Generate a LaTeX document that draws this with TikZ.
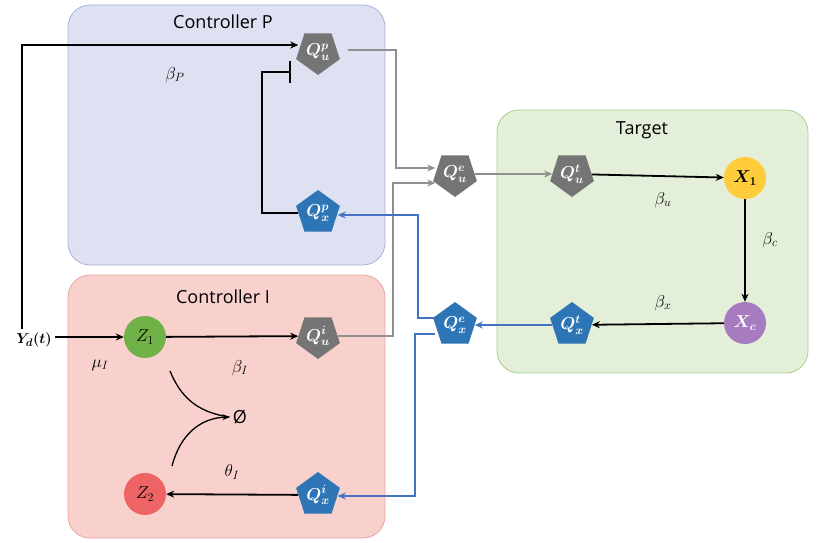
\documentclass[tikz,border=0pt]{standalone}
\usepackage{fontspec}
\usepackage{amsmath,bm}
\setmainfont{Open Sans}
\usetikzlibrary{shapes.geometric,arrows.meta}
\definecolor{pfill}{HTML}{DDE1F1}\definecolor{pdraw}{HTML}{A9B3DA}
\definecolor{ifill}{HTML}{F8D1CD}\definecolor{idraw}{HTML}{E9A3A0}
\definecolor{tfill}{HTML}{E3EFD8}\definecolor{tdraw}{HTML}{A9D08E}
\definecolor{qgray}{HTML}{757575}\definecolor{qblue}{HTML}{2E75B6}
\definecolor{lgray}{HTML}{909090}\definecolor{lblue}{HTML}{4472C4}
\begin{document}
\begin{tikzpicture}[x=1pt,y=-1pt,
  box/.style={rounded corners=22pt,line width=0.8pt},
  qu/.style={regular polygon,regular polygon sides=5,shape border rotate=180,fill=qgray,text=white,minimum size=46pt,inner sep=0pt,font=\fontsize{17}{19}\selectfont},
  qx/.style={regular polygon,regular polygon sides=5,fill=qblue,text=white,minimum size=46pt,inner sep=0pt,font=\fontsize{17}{19}\selectfont},
  sp/.style={circle,minimum size=42pt,inner sep=0pt,font=\fontsize{17}{19}\selectfont},
  ttl/.style={font=\fontsize{18}{20}\selectfont},
  lab/.style={font=\fontsize{18}{20}\selectfont},
  bk/.style={-{Stealth[length=8pt,width=7pt]},line width=1.8pt},
  gr/.style={-{Stealth[length=8pt,width=7pt]},line width=1.8pt,lgray},
  bl/.style={-{Stealth[length=8pt,width=7pt]},line width=1.8pt,lblue}]
\useasboundingbox (0,0) rectangle (820,543);
\draw[box,fill=pfill,draw=pdraw] (68,5) rectangle (385,265);
\draw[box,fill=ifill,draw=idraw] (68,275) rectangle (385,538);
\draw[box,fill=tfill,draw=tdraw] (497,110) rectangle (808,373);
\node[ttl] (tp) at (223,22) {Controller P};
\node[ttl] (ti) at (223,297) {Controller I};
\node[ttl] (tt) at (642,130) {Target};
\node[qu] (Qup) at (318,52) {$\bm{Q^{p}_{u}}$};
\node[qx] (Qxp) at (318,213) {$\bm{Q^{p}_{x}}$};
\node[qu] (Que) at (455,174) {$\bm{Q^{e}_{u}}$};
\node[qu] (Qut) at (572,174) {$\bm{Q^{t}_{u}}$};
\node[qx] (Qxt) at (572,325) {$\bm{Q^{t}_{x}}$};
\node[qx] (Qxe) at (455,325) {$\bm{Q^{e}_{x}}$};
\node[qu] (Qui) at (318,336) {$\bm{Q^{i}_{u}}$};
\node[qx] (Qxi) at (318,495) {$\bm{Q^{i}_{x}}$};
\node[sp,fill={rgb,255:red,255;green,205;blue,60}] (X1) at (745,178) {$\bm{X_1}$};
\node[sp,fill={rgb,255:red,166;green,123;blue,192},text=white] (Xc) at (745,323) {$\bm{X_c}$};
\node[sp,fill={rgb,255:red,112;green,178;blue,72}] (Z1) at (145,337) {$Z_1$};
\node[sp,fill={rgb,255:red,238;green,100;blue,100}] (Z2) at (145,494) {$Z_2$};
\node[lab] (E) at (240,417) {Ø};
\node[font=\fontsize{15}{17}\selectfont] (Yd) at (34,340) {$\bm{Y_d(t)}$};
\coordinate (yc) at (22,336);
% edges
\draw[bk] (Yd.north -| yc) -- (22,45) -- (Qup.west |- 0,45);
\node[lab] (bP) at (175,75) {$\beta_P$};
\draw[bk] (Yd.east |- Z1) -- (Z1);
\node[lab] (mI) at (100,365) {$\mu_I$};
\draw[-{Bar[width=22pt]},line width=1.8pt] (Qxp.west) -- (262,213) -- (262,72) -- (291,72);
\draw[gr] (348,50) -- (396,50) -- (396,168) -- (Que.west |- 0,168);
\draw[gr] (Qui.east) -- (393,336) -- (393,183) -- (Que.west |- 0,183);
\draw[gr] (Que) -- (Qut);
\draw[bk] (Qut) -- (X1);
\node[lab] (bu) at (663,200) {$\beta_u$};
\draw[bk] (X1) -- (Xc);
\node[lab] (bc) at (770,240) {$\beta_c$};
\draw[bk] (Xc) -- (Qxt);
\node[lab] (bx) at (663,303) {$\beta_x$};
\draw[bl] (Qxt) -- (Qxe);
\draw[bl] (Qxe.west |- 0,318) -- (418,318) -- (418,215) -- (Qxp.east |- 0,215);
\draw[bl] (Qxe.west |- 0,334) -- (415,334) -- (415,496) -- (Qxi.east |- 0,496);
\draw[bk] (Z1) -- (Qui);
\node[lab] (bI) at (240,368) {$\beta_I$};
\draw[bk] (Qxi) -- (Z2);
\node[lab] (tI) at (232,472) {$\theta_I$};
\draw[line width=1.3pt] (170,371) .. controls (180,395) and (195,412) .. (E.west);
\draw[line width=1.3pt,-{Stealth[length=7pt,width=6pt]}] (172,466) .. controls (180,435) and (200,418) .. (E.west);
\end{tikzpicture}
\end{document}
